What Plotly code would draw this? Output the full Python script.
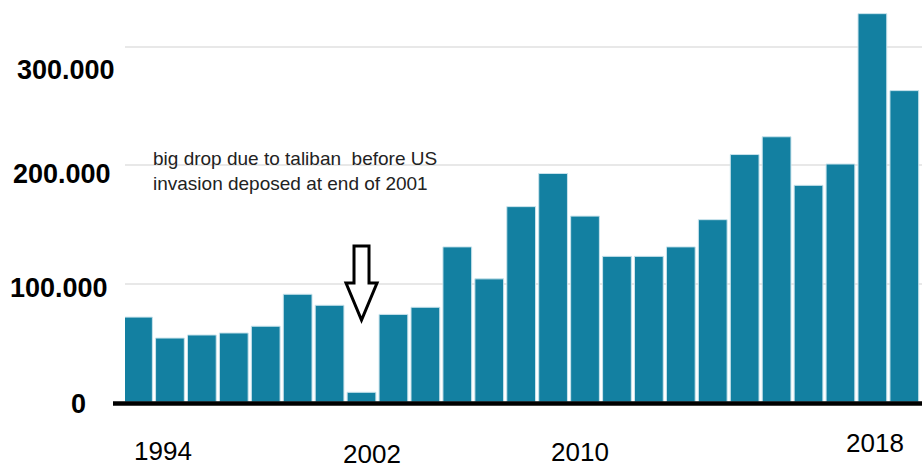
import plotly.graph_objects as go

# ---- data ----
years = list(range(1994, 2019))
hectares = [71700, 54000, 56600, 58300, 64000, 91000, 81700, 8200, 74000, 80000,
            131000, 104000, 165000, 193000, 157000, 123000, 123000, 131000, 154000,
            209000, 224000, 183000, 201000, 328000, 263000]
ytick_vals = [300000, 200000, 100000, 0]
ytick_text = ["300.000", "200.000", "100.000", "0"]
xlabel_text = ["1994", "2002", "2010", "2018"]
note_text = "big drop due to taliban  before US<br>invasion deposed at end of 2001"
drop_year = 2001

# ---- layout constants (pixels) ----
W, H = 922, 468
L, R, T, B = 125, 0, 0, 66
plot_w = W - L - R
plot_h = H - T - B
FONT = "Arial, Liberation Sans, sans-serif"
BAR = "#1380a1"

fig = go.Figure()
fig.add_trace(go.Bar(
    x=years, y=hectares,
    marker=dict(color=BAR, line=dict(color="#c9e3ec", width=1)),
    hoverinfo="x+y",
))

# y tick labels (placed individually, as in the picture)
yl_xshift = [-8, -12, -15, -37]
yl_yshift = [-23, -9, -4, -2]
annotations = []
for v, t, dx, dy in zip(ytick_vals, ytick_text, yl_xshift, yl_yshift):
    annotations.append(dict(
        x=0, xref="paper", y=v, yref="y", text=t, showarrow=False,
        xanchor="right", yanchor="middle", xshift=dx, yshift=dy,
        font=dict(family=FONT, size=27, color="#000000", weight="bold"),
    ))

# x labels
xl_pos = [1994.78, 2001.33, 2007.84, 2017.07]
xl_py = [451, 454, 452, 443]
for x, t, py in zip(xl_pos, xlabel_text, xl_py):
    annotations.append(dict(
        x=x, xref="x", y=(plot_h - py) / plot_h, yref="paper", text=t,
        showarrow=False, xanchor="center", yanchor="middle",
        font=dict(family=FONT, size=26, color="#000000"),
    ))

# note text
annotations.append(dict(
    x=(151 - L) / plot_w, xref="paper", y=(plot_h - 146) / plot_h, yref="paper",
    text=note_text, showarrow=False, xanchor="left", yanchor="top", align="left",
    font=dict(family=FONT, size=19, color="#222222"),
))

# hollow arrow over the 2001 bar
px_per_year = 31.93
px_per_unit = 118.4 / 100000
def ypx(py):
    return (402 - py) / px_per_unit
sw, hw = 7.5 / px_per_year, 15.5 / px_per_year
y_top, y_base, y_tip = ypx(246), ypx(283), ypx(320)
c = drop_year
path = (f"M {c-sw},{y_top} L {c+sw},{y_top} L {c+sw},{y_base} L {c+hw},{y_base} "
        f"L {c},{y_tip} L {c-hw},{y_base} L {c-sw},{y_base} Z")
axis_y = -1.5 / plot_h
shapes = [
    dict(type="path", xref="x", yref="y", path=path,
         line=dict(color="#000000", width=3), fillcolor="white", layer="above"),
    dict(type="line", xref="paper", yref="paper", x0=(113 - L) / plot_w, x1=1,
         y0=axis_y, y1=axis_y, line=dict(color="#000000", width=4.5), layer="above"),
]

x0 = 1994 - (138 - L) / px_per_year
x1 = 1994 + (W - 138) / px_per_year
fig.update_layout(
    width=W, height=H,
    margin=dict(l=L, r=R, t=T, b=B, pad=0),
    paper_bgcolor="white", plot_bgcolor="white",
    showlegend=False, bargap=0.1,
    font=dict(family=FONT),
    xaxis=dict(range=[x0, x1], showgrid=False, showticklabels=False,
               zeroline=False, showline=False, ticks=""),
    yaxis=dict(range=[0, plot_h / px_per_unit], tickvals=ytick_vals,
               showticklabels=False, showgrid=True, gridcolor="#e8e8e8",
               gridwidth=2, zeroline=False, showline=False, ticks=""),
    annotations=annotations, shapes=shapes,
)

fig.write_html("out.html", config={"displayModeBar": False},
               post_script="document.body.style.margin='0';document.body.style.overflow='hidden';")
